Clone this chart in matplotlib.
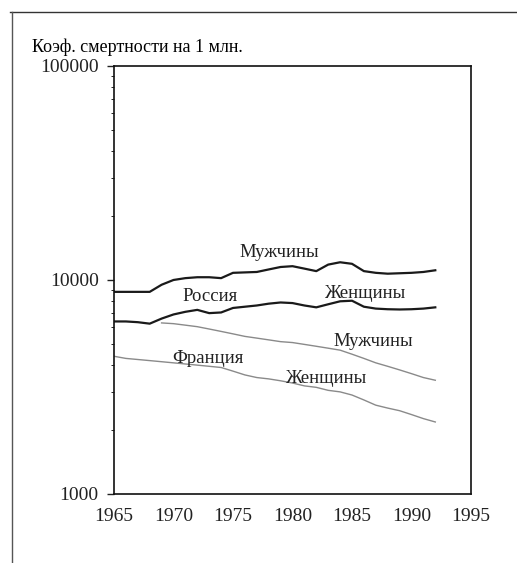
import matplotlib

matplotlib.use('Agg')
import matplotlib.pyplot as plt
from matplotlib.lines import Line2D

plt.rcParams['font.family'] = ['Liberation Serif', 'DejaVu Serif']

# Годы и коэффициенты смертности (на 1 млн.)
years_ru = list(range(1965, 1993))
russia_men = [8800, 8800, 8800, 8800, 9500, 10000, 10200, 10300, 10300, 10200,
              10800, 10850, 10900, 11200, 11500, 11600, 11300, 11000, 11800, 12100,
              11900, 11000, 10800, 10700, 10750, 10800, 10900, 11100]
russia_women = [6400, 6400, 6350, 6250, 6600, 6900, 7100, 7250, 7000, 7050,
                7400, 7500, 7600, 7750, 7850, 7800, 7600, 7450, 7700, 7950,
                8000, 7500, 7350, 7300, 7280, 7300, 7350, 7450]

years_fr_men = list(range(1969, 1993))
france_men = [6300, 6250, 6150, 6050, 5900, 5750, 5600, 5450, 5350, 5250,
              5150, 5100, 5000, 4900, 4800, 4700, 4500, 4300, 4100, 3950,
              3800, 3650, 3500, 3400]
years_fr_women = list(range(1965, 1993))
france_women = [4400, 4300, 4250, 4200, 4150, 4100, 4050, 4000, 3950, 3900,
                3750, 3600, 3500, 3450, 3380, 3300, 3200, 3150, 3050, 3000,
                2900, 2750, 2600, 2520, 2450, 2350, 2250, 2170]

x_ticks = [1965, 1970, 1975, 1980, 1985, 1990, 1995]
y_ticks = [1000, 10000, 100000]

fig = plt.figure(figsize=(5.17, 5.63), dpi=100)
ax = fig.add_axes([0.2205, 0.1226, 0.6905, 0.7602])

# Россия - чёрные толстые линии
ax.plot(years_ru, russia_men, color='#1a1a1a', linewidth=1.6)
ax.plot(years_ru, russia_women, color='#1a1a1a', linewidth=1.6)
# Франция - серые тонкие линии
ax.plot(years_fr_men, france_men, color='#8a8a8a', linewidth=1.0)
ax.plot(years_fr_women, france_women, color='#8a8a8a', linewidth=1.0)

ax.set_yscale('log')
ax.set_ylim(1000, 100000)
ax.set_xlim(1965, 1995)
ax.set_yticks(y_ticks)
ax.set_yticklabels([str(v) for v in y_ticks], fontsize=14)
ax.set_xticks(x_ticks)
ax.set_xticklabels([str(v) for v in x_ticks], fontsize=14)
ax.tick_params(axis='x', length=0, pad=10, colors='#222222')
ax.tick_params(axis='y', which='major', length=5, width=1, pad=6, colors='#222222')
ax.tick_params(axis='y', which='minor', length=2, width=0.6)
ax.yaxis.set_minor_formatter(plt.NullFormatter())
for sp in ax.spines.values():
    sp.set_linewidth(1.2)
    sp.set_color('#111111')

# Подписи линий
lab = dict(fontsize=13.5, ha='center', va='center', color='#222222')
ax.text(1978.9, 13400, 'Мужчины', **lab)
ax.text(1973.1, 8350, 'Россия', **lab)
ax.text(1986.1, 8650, 'Женщины', **lab)
ax.text(1986.8, 5150, 'Мужчины', **lab)
ax.text(1972.9, 4300, 'Франция', **lab)
ax.text(1982.8, 3450, 'Женщины', **lab)

fig.text(0.062, 0.916, 'Коэф. смертности на 1 млн.', fontsize=13, ha='left', va='center')

# рамка страницы сверху и слева
fig.add_artist(Line2D([0.02, 1.0], [0.978, 0.978], transform=fig.transFigure,
                      color='#333333', linewidth=1.0))
fig.add_artist(Line2D([0.023, 0.023], [0.0, 0.978], transform=fig.transFigure,
                      color='#555555', linewidth=1.0))

fig.savefig('out.png', dpi=100, facecolor='white')
